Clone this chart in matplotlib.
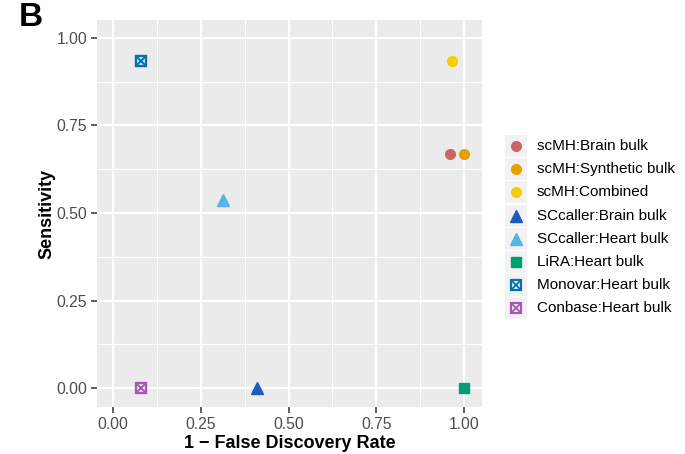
import matplotlib.pyplot as plt
from matplotlib.lines import Line2D
from matplotlib.patches import Rectangle

plt.rcParams['font.family'] = ['Liberation Sans', 'DejaVu Sans']

# data
labels = ['scMH:Brain bulk', 'scMH:Synthetic bulk', 'scMH:Combined',
          'SCcaller:Brain bulk', 'SCcaller:Heart bulk', 'LiRA:Heart bulk',
          'Monovar:Heart bulk', 'Conbase:Heart bulk']
one_minus_fdr = [0.96, 1.00, 0.967, 0.41, 0.313, 1.00, 0.08, 0.08]
sensitivity = [0.667, 0.667, 0.933, 0.0, 0.537, 0.0, 0.933, 0.0]
colors = ['#CC6666', '#E69F00', '#F5CE00', '#1F5BBF', '#56B4E9',
          '#009E73', '#0072B2', '#A855B5']
markers = ['o', 'o', 'o', '^', '^', 's', 'boxcross', 'boxcross']

fig = plt.figure(figsize=(6.85, 4.54), dpi=100)
ax = fig.add_axes([0.1416, 0.1035, 0.562, 0.8525])
ax.set_facecolor('#EBEBEB')
for s in ax.spines.values():
    s.set_visible(False)


def draw_point(target, x, y, m, c, **kw):
    if m == 'boxcross':
        target.plot([x], [y], marker='s', ms=7, mfc='none', mec=c, mew=1.7, ls='none', **kw)
        target.plot([x], [y], marker='x', ms=6, mec=c, mew=1.4, ls='none', **kw)
    else:
        ms = 8 if m == '^' else 7
        target.plot([x], [y], marker=m, ms=ms, color=c, mec=c, ls='none', **kw)


for x, y, m, c in zip(one_minus_fdr, sensitivity, markers, colors):
    draw_point(ax, x, y, m, c, zorder=3, clip_on=False)

ax.set_xlim(-0.0456, 1.051)
ax.set_ylim(-0.054, 1.051)
ticks = [0, 0.25, 0.5, 0.75, 1.0]
ax.set_xticks(ticks)
ax.set_yticks(ticks)
ax.set_xticklabels(['0.00', '0.25', '0.50', '0.75', '1.00'])
ax.set_yticklabels(['0.00', '0.25', '0.50', '0.75', '1.00'])
ax.set_xticks([0.125, 0.375, 0.625, 0.875], minor=True)
ax.set_yticks([0.125, 0.375, 0.625, 0.875], minor=True)
ax.grid(True, which='major', color='white', lw=1.6)
ax.grid(True, which='minor', color='white', lw=0.8)
ax.set_axisbelow(True)
ax.tick_params(which='major', length=4, width=1.1, color='#333333',
               labelcolor='#4D4D4D', labelsize=11.3, pad=3)
ax.tick_params(which='minor', length=0)

ax.set_xlabel('1 − False Discovery Rate', fontsize=13, fontweight='bold', labelpad=2)
ax.set_ylabel('Sensitivity', fontsize=13, fontweight='bold', labelpad=1)

fig.text(0.028, 0.962, 'B', fontsize=24, fontweight='bold', va='center', ha='left')

# legend drawn manually (ggplot style keys with gray backgrounds)
y0 = 1 - 146 / 454
dy = 23.2 / 454
kx = 516 / 685
kw_ = 22 / 685
kh = 22 / 454
for i, (lab, m, c) in enumerate(zip(labels, markers, colors)):
    yy = y0 - i * dy
    fig.add_artist(Rectangle((kx - kw_ / 2, yy - kh / 2), kw_, kh,
                             transform=fig.transFigure, facecolor='#F2F2F2',
                             edgecolor='none', zorder=1))
    if m == 'boxcross':
        fig.add_artist(Line2D([kx], [yy], marker='s', ms=7, mfc='none', mec=c, mew=1.6,
                              transform=fig.transFigure, zorder=2))
        fig.add_artist(Line2D([kx], [yy], marker='x', ms=6, mec=c, mew=1.3,
                              transform=fig.transFigure, zorder=2))
    else:
        ms = 8 if m == '^' else 7
        fig.add_artist(Line2D([kx], [yy], marker=m, ms=ms, color=c, mec=c,
                              transform=fig.transFigure, zorder=2))
    fig.text(537 / 685, yy, lab, fontsize=11, va='center', ha='left', color='black')

fig.savefig('out.png', dpi=100, facecolor='white')
